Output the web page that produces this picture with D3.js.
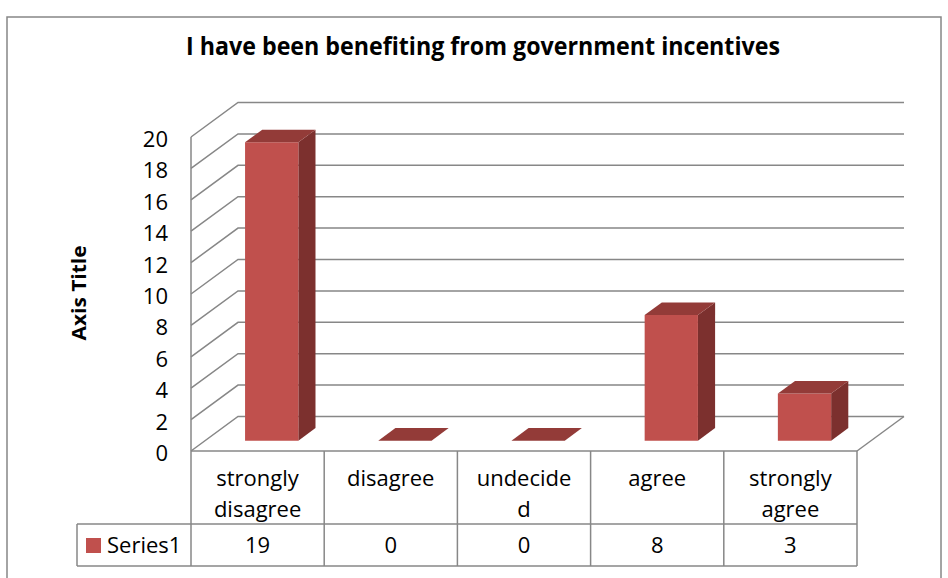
<!DOCTYPE html>
<html>
<head>
<meta charset="utf-8">
<script src="https://cdn.jsdelivr.net/npm/d3@7/dist/d3.min.js"></script>
<style>
  html, body { margin: 0; padding: 0; background: #ffffff; }
  svg { display: block; }
  text { font-family: "Open Sans", "Noto Sans", "DejaVu Sans", sans-serif; fill: #000; }
</style>
</head>
<body>
<svg id="chart" width="948" height="578"></svg>
<script>
// ---- data ----
const chartTitle = "I have been benefiting from government incentives";
const axisTitle = "Axis Title";
const seriesName = "Series1";
const categories = ["strongly disagree", "disagree", "undecided", "agree", "strongly agree"];
const categoryLines = [["strongly", "disagree"], ["disagree"], ["undecide", "d"], ["agree"], ["strongly", "agree"]];
const values = [19, 0, 0, 8, 3];
const yTicks = [0, 2, 4, 6, 8, 10, 12, 14, 16, 18, 20];

// ---- layout ----
const svg = d3.select("#chart");
const plotLeft = 191, plotRight = 857;
const floorY = 451, topY = 137;
const DX = 47, DY = 34.5;          // depth projection of the back wall
const barZ0 = 0.3, barZ1 = 0.665;  // bar depth range (0 = front, 1 = back)
const gridColor = "#878787";
const barFront = "#C0504D", barTop = "#933B38", barSide = "#7C302E";
const fs = 22;

const x = d3.scaleBand().domain(categories).range([plotLeft, plotRight]).paddingInner(0).paddingOuter(0);
const y = d3.scaleLinear().domain([0, 20]).range([floorY, topY]);
const P = (px, v, z) => [px + z * DX, y(v) - z * DY];

// outer border
svg.append("rect").attr("x", 7).attr("y", 17).attr("width", 934).attr("height", 600)
  .attr("fill", "none").attr("stroke", gridColor).attr("stroke-width", 1.5);

// title
svg.append("text").attr("x", 483).attr("y", 55).attr("text-anchor", "middle")
  .attr("font-size", 24.5).attr("font-weight", "bold")
  .attr("textLength", 594).attr("lengthAdjust", "spacingAndGlyphs")
  .text(chartTitle);

// axis title
svg.append("text").attr("transform", "translate(86,293) rotate(-90)")
  .attr("text-anchor", "middle").attr("font-size", 19).attr("font-weight", "bold")
  .attr("textLength", 95).attr("lengthAdjust", "spacingAndGlyphs")
  .text(axisTitle);

// grid: side diagonals + back wall lines
const grid = svg.append("g").attr("stroke", gridColor).attr("stroke-width", 1.5).attr("fill", "none");
yTicks.forEach(v => {
  const a = P(plotLeft, v, 0), b = P(plotLeft, v, 1), c = P(plotRight, v, 1);
  grid.append("path").attr("d", `M${a[0]},${a[1]}L${b[0]},${b[1]}L${c[0]},${c[1]}`);
});
grid.append("line").attr("x1", plotLeft).attr("x2", plotLeft).attr("y1", y(0)).attr("y2", y(20));
{
  const a = P(plotRight, 0, 0), b = P(plotRight, 0, 1);
  grid.append("line").attr("x1", a[0]).attr("y1", a[1]).attr("x2", b[0]).attr("y2", b[1]);
}

// y tick labels
svg.append("g").selectAll("text").data(yTicks).join("text")
  .attr("x", 168).attr("y", d => y(d) + 10).attr("text-anchor", "end")
  .attr("font-size", fs).text(d => d);

// bars
const barW = x.bandwidth() * 0.4;
const bars = svg.append("g");
const poly = pts => pts.map(p => p.join(",")).join(" ");
categories.forEach((c, i) => {
  const v = values[i];
  const x0 = x(c) + (x.bandwidth() - barW) / 2, x1 = x0 + barW;
  const g = bars.append("g");
  if (v > 0) {
    g.append("polygon").attr("fill", barSide)
      .attr("points", poly([P(x1, 0, barZ0), P(x1, 0, barZ1), P(x1, v, barZ1), P(x1, v, barZ0)]));
    g.append("polygon").attr("fill", barFront)
      .attr("points", poly([P(x0, 0, barZ0), P(x1, 0, barZ0), P(x1, v, barZ0), P(x0, v, barZ0)]));
  }
  g.append("polygon").attr("fill", barTop)
    .attr("points", poly([P(x0, v, barZ0), P(x1, v, barZ0), P(x1, v, barZ1), P(x0, v, barZ1)]));
});

// data table
const rowTop = floorY, rowMid = 524, rowBot = 566, legendLeft = 77;
const tbl = svg.append("g").attr("stroke", gridColor).attr("stroke-width", 1.5).attr("fill", "none");
tbl.append("line").attr("x1", plotLeft).attr("x2", plotRight).attr("y1", rowTop).attr("y2", rowTop);
tbl.append("line").attr("x1", legendLeft).attr("x2", plotRight).attr("y1", rowMid).attr("y2", rowMid);
tbl.append("line").attr("x1", legendLeft).attr("x2", plotRight).attr("y1", rowBot).attr("y2", rowBot);
tbl.append("line").attr("x1", legendLeft).attr("x2", legendLeft).attr("y1", rowMid).attr("y2", rowBot);
categories.forEach(c => {
  tbl.append("line").attr("x1", x(c)).attr("x2", x(c)).attr("y1", rowTop).attr("y2", rowBot);
});
tbl.append("line").attr("x1", plotRight).attr("x2", plotRight).attr("y1", rowTop).attr("y2", rowBot);

const tt = svg.append("g").attr("font-size", fs).attr("text-anchor", "middle");
categories.forEach((c, i) => {
  const cx = x(c) + x.bandwidth() / 2;
  categoryLines[i].forEach((ln, j) => {
    tt.append("text").attr("x", cx).attr("y", 486 + j * 31).text(ln);
  });
  tt.append("text").attr("x", cx).attr("y", 553).text(values[i]);
});

// legend key in the table
svg.append("rect").attr("x", 86).attr("y", 538).attr("width", 15).attr("height", 15).attr("fill", barFront);
svg.append("text").attr("x", 107).attr("y", 553).attr("font-size", fs).text(seriesName);
</script>
</body>
</html>
